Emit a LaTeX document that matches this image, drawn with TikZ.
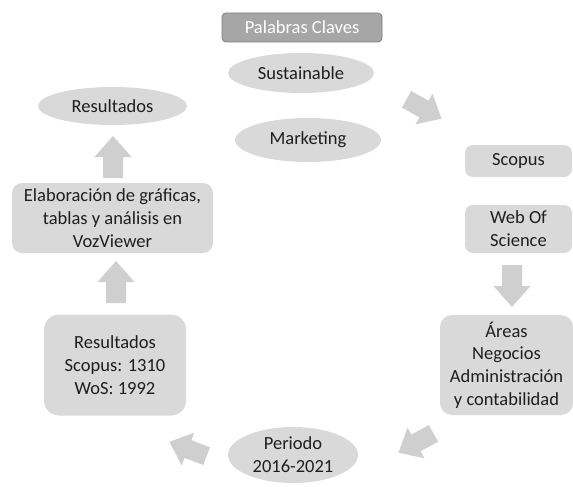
\documentclass[tikz,border=0pt]{standalone}
\usepackage{fontspec}
\setmainfont{Carlito}
\usetikzlibrary{shapes.geometric}
\definecolor{boxgray}{HTML}{D9D9D9}
\definecolor{arrgray}{HTML}{CFCFCF}
\definecolor{txt}{HTML}{1E1E1E}
\definecolor{kwfill}{HTML}{A6A6A6}
\definecolor{kwdraw}{HTML}{7F7F7F}
\begin{document}
\begin{tikzpicture}[x=1pt,y=-1pt,
  every node/.style={font=\fontsize{18.5}{22.8}\selectfont, text=txt, align=center, inner sep=0pt},
  rbox/.style={fill=boxgray, rounded corners=#1},
  rbox/.default=8pt,
  oval/.style={ellipse, fill=boxgray},
  kwbox/.style={fill=kwfill, draw=kwdraw, line width=0.8pt, rounded corners=4pt, text=white},
  barrow/.pic={\fill[arrgray] (-21,-10) -- (0,-10) -- (0,-18.5) -- (21,0) -- (0,18.5) -- (0,10) -- (-21,10) -- cycle;}
]
\useasboundingbox (0,0) rectangle (573,487);

\node[kwbox, minimum width=160pt, minimum height=29pt] (kw) at (302,27.5) {Palabras Claves};
\node[oval, minimum width=146pt, minimum height=40pt] (sus) at (301,73) {Sustainable};
\node[oval, minimum width=146pt, minimum height=44pt] (mkt) at (308,140) {Marketing};
\node[rbox, minimum width=107pt, minimum height=32pt] (scopus) at (518.5,161) {Scopus};
\node[rbox, minimum width=107pt, minimum height=48pt] (wos) at (518.5,229) {Web Of\\Science};
\node[rbox=12pt, minimum width=133pt, minimum height=100pt] (areas) at (506.5,365) {Áreas\\Negocios\\Administración\\y contabilidad};
\node[oval, minimum width=130pt, minimum height=56pt] (per) at (293,455) {Periodo\\2016-2021};
\node[rbox=15pt, minimum width=142pt, minimum height=101pt] (res) at (115,365) {Resultados\\Scopus: 1310\\WoS: 1992};
\node[rbox=10pt, minimum width=201pt, minimum height=70pt] (elab) at (112.5,218) {Elaboración de gráficas,\\tablas y análisis en\\VozViewer};
\node[oval, minimum width=149pt, minimum height=38pt] (resE) at (112.5,106) {Resultados};

\pic[rotate=-29, scale=0.95] at (424,109) {barrow};
\pic[rotate=-90] at (512,286) {barrow};
\pic[rotate=-151, scale=0.95] at (416,443) {barrow};
\pic[rotate=159, scale=0.95] at (188,449) {barrow};
\pic[rotate=90] at (116,282) {barrow};
\pic[rotate=90] at (113,157) {barrow};
\end{tikzpicture}
\end{document}
